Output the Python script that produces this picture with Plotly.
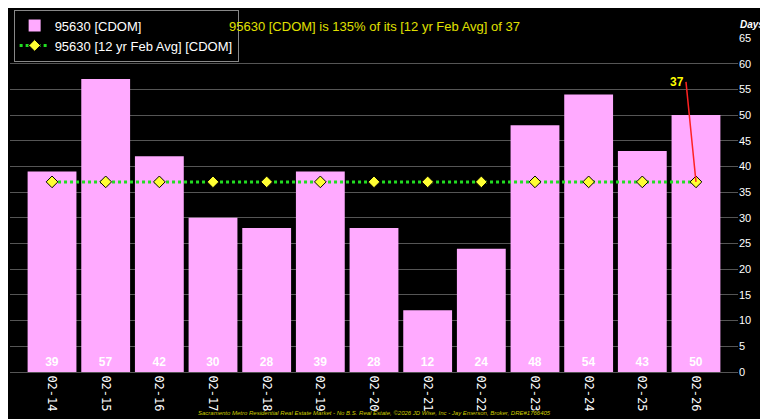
import plotly.graph_objects as go

years = ["02-14", "02-15", "02-16", "02-17", "02-18", "02-19", "02-20",
         "02-21", "02-22", "02-23", "02-24", "02-25", "02-26"]
cdom = [39, 57, 42, 30, 28, 39, 28, 12, 24, 48, 54, 43, 50]
avg = [37] * len(years)

fig = go.Figure()

fig.add_trace(go.Bar(
    x=years, y=cdom, name="95630 [CDOM]",
    marker=dict(color="#ffaaff", line=dict(width=0)),
    text=["<b>%d</b>" % v for v in cdom], textposition="inside", insidetextanchor="start",
    textfont=dict(color="white", size=12, family="Liberation Sans"),
    textangle=0,
))

fig.add_trace(go.Scatter(
    x=years, y=avg, name="95630 [12 yr Feb Avg] [CDOM]",
    mode="lines+markers",
    line=dict(color="#22dd22", width=3, dash="dot"),
    marker=dict(symbol="diamond", size=9, color="#ffff33", line=dict(color="black", width=1)),
))

fig.add_annotation(
    x="02-26", y=37, text="<b>37</b>", showarrow=True, arrowhead=0,
    arrowcolor="#ff2222", arrowwidth=1.5, ax=-10, ay=-100,
    font=dict(color="#ffff00", size=12), xanchor="right",
)
fig.add_annotation(
    x=0.5, y=1.0, xref="paper", yref="paper", yanchor="bottom",
    text="95630 [CDOM] is 135% of its [12 yr Feb Avg] of 37",
    showarrow=False, font=dict(color="#e0e000", size=13), yshift=2,
)
fig.add_annotation(
    x=1.0, y=1.0, xref="paper", yref="paper", xanchor="left", yanchor="bottom",
    text="<i><b>Days</b></i>", showarrow=False, font=dict(color="white", size=10), yshift=6,
)
fig.add_annotation(
    x=0.5, y=0, xref="paper", yref="paper", yanchor="top", yshift=-36,
    text="<i>Sacramento Metro Residential Real Estate Market - No B.S. Real Estate, ©2026 JD Wise, Inc - Jay Emerson, Broker, DRE#1766405</i>",
    showarrow=False, font=dict(color="#cccc00", size=6),
)

fig.update_layout(
    width=760, height=412,
    paper_bgcolor="black", plot_bgcolor="black",
    margin=dict(l=2, r=30, t=28, b=48),
    bargap=0.09,
    font=dict(family="Liberation Sans, Arial", color="white"),
    showlegend=True,
    legend=dict(x=0.005, y=1.085, xanchor="left", yanchor="top",
                bgcolor="black", bordercolor="#888", borderwidth=1,
                font=dict(color="white", size=13)),
)
fig.update_xaxes(tickangle=90, tickfont=dict(family="DejaVu Sans Mono", size=12, color="white"),
                 showgrid=False, linecolor="#555")
fig.update_yaxes(side="right", range=[0, 65], dtick=5, gridcolor="#555",
                 tickfont=dict(size=11, color="white"), zeroline=False)

fig.write_html("out.html")
